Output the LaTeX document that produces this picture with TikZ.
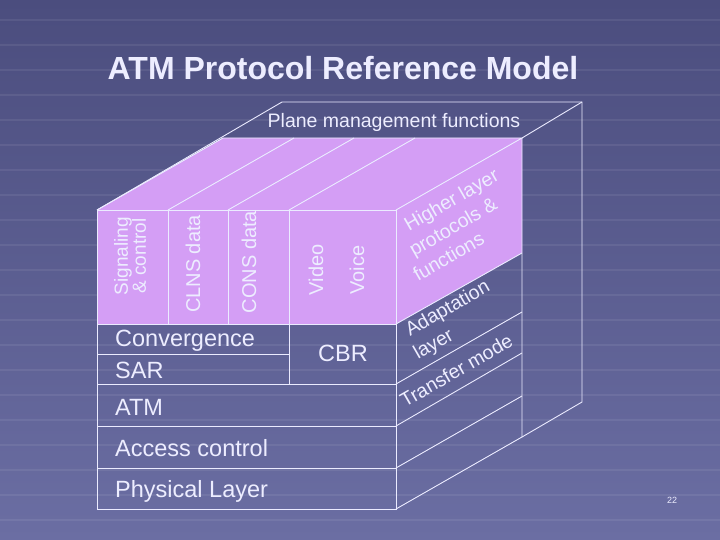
\documentclass[tikz,border=0pt]{standalone}
\usepackage{fontspec}
\setmainfont{Liberation Sans}
\begin{document}
\begin{tikzpicture}[x=1pt,y=-1pt,
  ln/.style={draw=white!92!blue,line width=0.9pt},
  tx/.style={text=white!93!blue,inner sep=0pt},
  big/.style={tx,font=\fontsize{23.5}{25}\selectfont},
  vert/.style={tx,font=\fontsize{20}{20}\selectfont,rotate=90,align=center},
  side/.style={tx,font=\fontsize{19.5}{24}\selectfont,rotate=30,anchor=base west}]
\definecolor{bgtop}{HTML}{4B4D7E}
\definecolor{bgbot}{HTML}{6B6EA3}
\definecolor{lav}{HTML}{D49EF5}
\useasboundingbox (0,0) rectangle (720,540);
\shade[top color=bgtop,bottom color=bgbot] (0,0) rectangle (720,540);
\foreach \y in {20,45,...,540} \draw[white,opacity=0.07,line width=2pt] (0,\y) -- (720,\y);
\node[tx,font=\bfseries\fontsize{32}{34}\selectfont] (title) at (343,68) {ATM Protocol Reference Model};
% purple faces
\fill[lav] (97,210) -- (223,138) -- (522,138) -- (522,253) -- (396,324) -- (97,324) -- cycle;
% outer plane box
\draw[ln] (97,210) -- (282,102) -- (582,102) -- (582,402) -- (522,437);
\draw[ln] (522,138) -- (582,102);
% front face
\draw[ln] (97,210) rectangle (396,509);
\draw[ln] (97,324) -- (396,324);
\draw[ln] (97,354) -- (289,354);
\draw[ln] (97,384) -- (396,384);
\draw[ln] (97,426) -- (396,426);
\draw[ln] (97,468) -- (396,468);
\draw[ln] (168,210) -- (168,324);
\draw[ln] (228,210) -- (228,324);
\draw[ln] (289,210) -- (289,384);
% top face
\draw[ln] (97,210) -- (223,138) -- (522,138) -- (396,210);
\draw[ln] (168,210) -- (294,138);
\draw[ln] (228,210) -- (354,138);
\draw[ln] (289,210) -- (415,138);
% right face
\draw[ln] (522,138) -- (522,437) -- (396,509);
\draw[ln] (396,324) -- (522,253);
\draw[ln] (396,384) -- (522,312);
\draw[ln] (396,426) -- (522,353);
\draw[ln] (396,468) -- (522,396);
% texts
\node[tx,font=\fontsize{19.5}{20}\selectfont] (pm) at (394,122) {Plane management functions};
\node[vert,font=\fontsize{19}{18}\selectfont] (sig) at (130,256) {Signaling\\\& control};
\node[vert] (clns) at (193,264) {CLNS data};
\node[vert] (cons) at (249,262) {CONS data};
\node[vert] (video) at (316,270) {Video};
\node[vert] (voice) at (357,270) {Voice};
\node[big,anchor=west] (conv) at (115,341) {Convergence};
\node[big,anchor=west] (sar) at (115,370) {SAR};
\node[big] (cbr) at (343,353) {CBR};
\node[big,anchor=west] (atm) at (115,407) {ATM};
\node[big,anchor=west] (acc) at (115,448) {Access control};
\node[big,anchor=west] (phy) at (115,491) {Physical Layer};
\node[side] (hl1) at (409,232) {Higher layer};
\node[side] (hl2) at (414,257) {protocols \&};
\node[side] (hl3) at (418,282) {functions};
\node[side] (ad1) at (410,337) {Adaptation};
\node[side] (ad2) at (418,360) {layer};
\node[side] (tm) at (405,408) {Transfer mode};
\node[tx,font=\fontsize{9}{9}\selectfont] (pg) at (672,500) {22};
\end{tikzpicture}
\end{document}
